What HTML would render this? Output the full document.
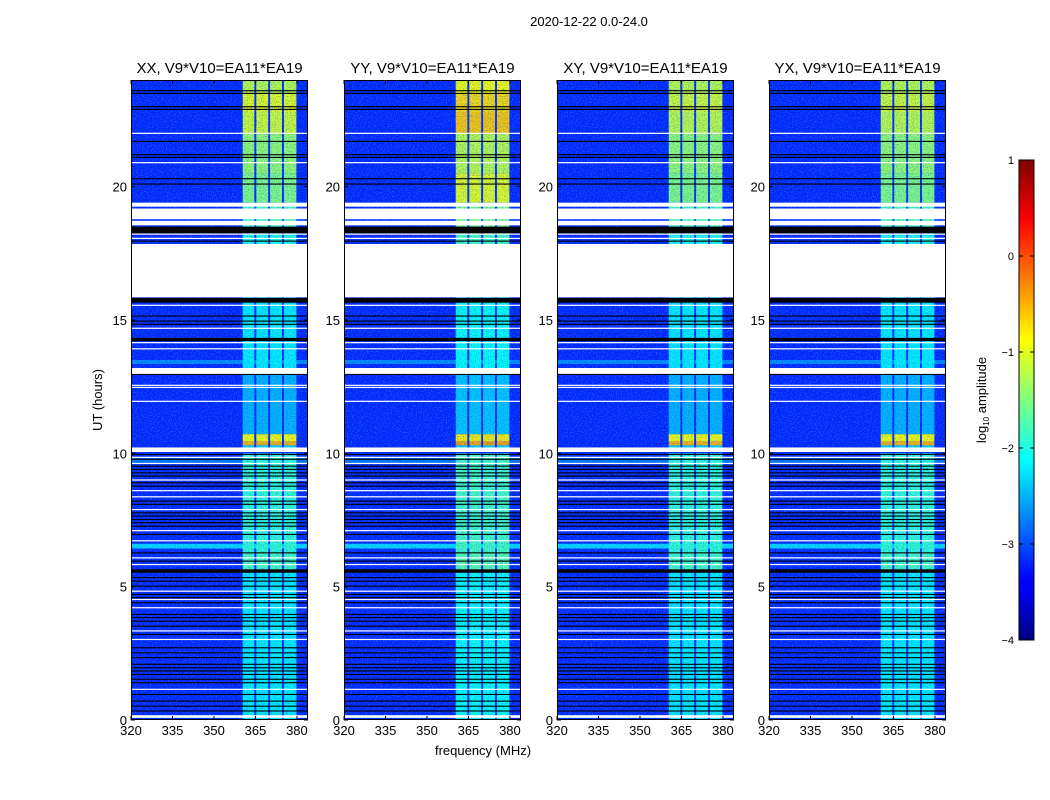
<!DOCTYPE html>
<html><head><meta charset="utf-8"><style>
html,body{margin:0;padding:0;background:#fff;}
svg{display:block;font-family:"Liberation Sans",sans-serif;}
</style></head><body>
<svg id="fig" width="1050" height="800" viewBox="0 0 1050 800" xmlns="http://www.w3.org/2000/svg">
<defs>
<filter id="noiseLight" x="0" y="0" width="100%" height="100%">
<feTurbulence type="fractalNoise" baseFrequency="0.8" numOctaves="1" seed="3"/>
<feColorMatrix type="matrix" values="0 0 0 0 0.1  0 0 0 0 0.6  0 0 0 0 1  2.2 0 0 0 -1.05"/>
</filter>
<filter id="noiseDark" x="0" y="0" width="100%" height="100%">
<feTurbulence type="fractalNoise" baseFrequency="0.85" numOctaves="1" seed="11"/>
<feColorMatrix type="matrix" values="0 0 0 0 0  0 0 0 0 0.05  0 0 0 0 0.6  2.2 0 0 0 -1.0"/>
</filter>
<linearGradient id="jetgrad" x1="0" y1="1" x2="0" y2="0">
<stop offset="0" stop-color="#00007f"/><stop offset="0.11" stop-color="#0000ff"/>
<stop offset="0.125" stop-color="#0000ff"/><stop offset="0.375" stop-color="#00ffff"/>
<stop offset="0.625" stop-color="#ffff00"/><stop offset="0.875" stop-color="#ff0000"/>
<stop offset="1" stop-color="#7f0000"/></linearGradient>
</defs>
<text x="589" y="26" font-size="13" text-anchor="middle">2020-12-22 0.0-24.0</text>
<text x="483" y="755" font-size="13" text-anchor="middle">frequency (MHz)</text>
<text transform="translate(102,400) rotate(-90)" font-size="13" text-anchor="middle">UT (hours)</text>
<g id="cbar"></g>
</svg>
<script>
// ---- data ----
const panelTitles = ["XX, V9*V10=EA11*EA19","YY, V9*V10=EA11*EA19","XY, V9*V10=EA11*EA19","YX, V9*V10=EA11*EA19"];
const xTicks = [320,335,350,365,380];
const yTicks = [0,5,10,15,20];
const cbTicks = [1,0,-1,-2,-3,-4];
const backgroundLevel = -3.2;
const bandColumns = [[360.4,364.6],[365.3,369.6],[370.3,374.6],[375.3,379.8]];
const segStart = [0,   5.6, 6.3, 10.05,10.3,10.45,10.72,13.2,17.85,18.5,19.4,20.5,22.0,22.8,23.5];
const segEnd   = [5.6, 6.3, 10.0,10.3, 10.45,10.72,13.0,15.85,18.5,19.3,20.5,22.0,22.8,23.5,24.0];
const bandXX   = [-2.2,-1.8,-1.9,-2.3,-0.5,-0.9,-2.5,-2.2,-2.0,-1.8,-1.5,-1.4,-1.1,-1.0,-1.2];
const bandYY   = [-2.1,-1.7,-1.8,-2.3,-0.4,-0.8,-2.4,-2.1,-1.8,-1.5,-1.0,-1.2,-0.6,-0.7,-0.9];
const bandXY   = [-2.2,-1.8,-1.9,-2.3,-0.5,-0.9,-2.5,-2.2,-2.0,-1.8,-1.5,-1.4,-1.2,-1.1,-1.2];
const bandYX   = [-2.2,-1.8,-1.9,-2.3,-0.5,-0.9,-2.5,-2.2,-2.0,-1.8,-1.5,-1.4,-1.2,-1.1,-1.2];
const lightRowStart = [6.43,13.35,9.64];
const lightRowEnd   = [6.61,13.5,9.83];
const lightRowValue = [-2.3,-2.7,-2.8];
const whiteStart = [15.85,19.25,18.78,18.55,12.98,10.05,0.08];
const whiteEnd   = [17.85,19.4,19.18,18.72,13.2,10.22,0.18];
const whiteLines = [22.0,20.9,18.22,18.06,15.55,14.69,14.15,13.92,12.55,12.47,11.95,9.85,9.62,9.0,8.6,8.37,7.89,7.1,6.72,6.08,5.83,4.83,4.52,4.21,3.34,3.02,1.15];
const blackStart = [18.25,15.65,14.21,5.52];
const blackEnd   = [18.5,15.83,14.33,5.65];
const blackLines = [23.6,23.5,23.0,22.9,21.7,21.2,21.1,20.3,20.1,17.96,15.15,14.96,14.84,12.96,9.96,9.78,9.52,9.40,9.27,9.15,8.90,8.77,8.21,8.09,7.77,7.65,7.52,7.40,7.27,6.96,6.27,5.96,5.34,5.21,5.02,4.71,4.59,4.40,3.96,3.84,3.71,3.52,3.21,2.71,2.52,2.34,2.09,1.96,1.84,1.71,1.53,1.40,0.96,0.71,0.52,0.34];
// ---- layout ----
const panelLeft = [131,344,557,769];
const PW=177, PT=80, PB=720, XMIN=320, XMAX=384, YMIN=0, YMAX=24;
const NS="http://www.w3.org/2000/svg";
const svg=document.getElementById('fig');
function mk(tag,attrs,parent){const e=document.createElementNS(NS,tag);for(const k in attrs)e.setAttribute(k,attrs[k]);(parent||svg).appendChild(e);return e;}
function jet(v){let t=Math.max(0,Math.min(1,(v+4)/5));const c=x=>Math.round(255*Math.max(0,Math.min(1,1.5-Math.abs(x))));return `rgb(${c(4*t-3)},${c(4*t-2)},${c(4*t-1)})`;}
const bands=[bandXX,bandYY,bandXY,bandYX];
panelLeft.forEach((L,p)=>{
  const xs=f=>L+(f-XMIN)/(XMAX-XMIN)*PW;
  const ys=h=>PB-(h-YMIN)/(YMAX-YMIN)*(PB-PT);
  const g=mk('g',{});
  
  
  const bg=mk('rect',{x:L,y:PT,width:PW,height:PB-PT,fill:jet(backgroundLevel)},g);
  
  
  lightRowStart.forEach((s,i)=>{const r=mk('rect',{x:L,y:ys(lightRowEnd[i]),width:PW,height:ys(s)-ys(lightRowEnd[i]),fill:jet(lightRowValue[i])},g);
    
    });
  segStart.forEach((s,i)=>{bandColumns.forEach(c=>{
    const r=mk('rect',{x:xs(c[0]),y:ys(segEnd[i]),width:xs(c[1])-xs(c[0]),height:ys(s)-ys(segEnd[i]),fill:jet(bands[p][i])},g);
    
    });});
  const nz=mk('rect',{x:L,y:PT,width:PW,height:PB-PT,filter:'url(#noiseLight)',opacity:0.6},g);
  
  
  const nd=mk('rect',{x:L,y:PT,width:PW,height:PB-PT,filter:'url(#noiseDark)',opacity:0.6},g);
  
  
  blackStart.forEach((s,i)=>{const r=mk('rect',{x:L,y:ys(blackEnd[i]),width:PW,height:ys(s)-ys(blackEnd[i]),fill:'#000'},g);
    
    });
  blackLines.forEach(h=>{const r=mk('rect',{x:L,y:ys(h)-0.5,width:PW,height:1.1,fill:'#000'},g);
    
    });
  whiteStart.forEach((s,i)=>{const r=mk('rect',{x:L,y:ys(whiteEnd[i]),width:PW,height:ys(s)-ys(whiteEnd[i]),fill:'#fff'},g);
    
    });
  whiteLines.forEach(h=>{const r=mk('rect',{x:L,y:ys(h)-0.6,width:PW,height:1.2,fill:'#fff'},g);
    
    });
  const fr=mk('rect',{x:L+0.5,y:PT+0.5,width:PW-1,height:PB-PT-1,fill:'none',stroke:'#000','stroke-width':1},g);
  
  
  const t=mk('text',{x:L+PW/2,y:PT-7,'font-size':15,'text-anchor':'middle'},g);t.textContent=panelTitles[p];
  
  
  xTicks.forEach(v=>{const x=xs(v);
    mk('line',{x1:x,x2:x,y1:PB,y2:PB-4,stroke:'#000'},g);mk('line',{x1:x,x2:x,y1:PT,y2:PT+4,stroke:'#000'},g);
    const tl=mk('text',{x:x,y:PB+15,'font-size':13,'text-anchor':'middle'},g);tl.textContent=v;
    
    });
  yTicks.forEach(v=>{const y=ys(v);
    mk('line',{x1:L,x2:L+4,y1:y,y2:y,stroke:'#000'},g);mk('line',{x1:L+PW,x2:L+PW-4,y1:y,y2:y,stroke:'#000'},g);
    const tl=mk('text',{x:L-4,y:y+5,'font-size':13,'text-anchor':'end'},g);tl.textContent=v;
    
    });
});
// colorbar
const cb=document.getElementById('cbar');
const CBX=1019,CBW=15,CBT=160,CBB=640;
mk('rect',{x:CBX,y:CBT,width:CBW,height:CBB-CBT,fill:'url(#jetgrad)',stroke:'#000','stroke-width':1},cb);
const cbs=v=>CBB-(v+4)/5*(CBB-CBT);
cbTicks.forEach(v=>{const y=cbs(v);
  mk('line',{x1:CBX,x2:CBX+4,y1:y,y2:y,stroke:'#000'},cb);mk('line',{x1:CBX+CBW,x2:CBX+CBW-4,y1:y,y2:y,stroke:'#000'},cb);
  const tl=mk('text',{x:CBX-5,y:y+4,'font-size':11,'text-anchor':'end'},cb);tl.textContent=v<0?'\u2212'+(-v):v;
  
  });
const cl=mk('text',{transform:'translate(986,400) rotate(-90)','font-size':13,'text-anchor':'middle'},cb);
cl.innerHTML='log<tspan font-size="8" dy="3">10</tspan><tspan dy="-3"> amplitude</tspan>';


</script>
</body></html>
